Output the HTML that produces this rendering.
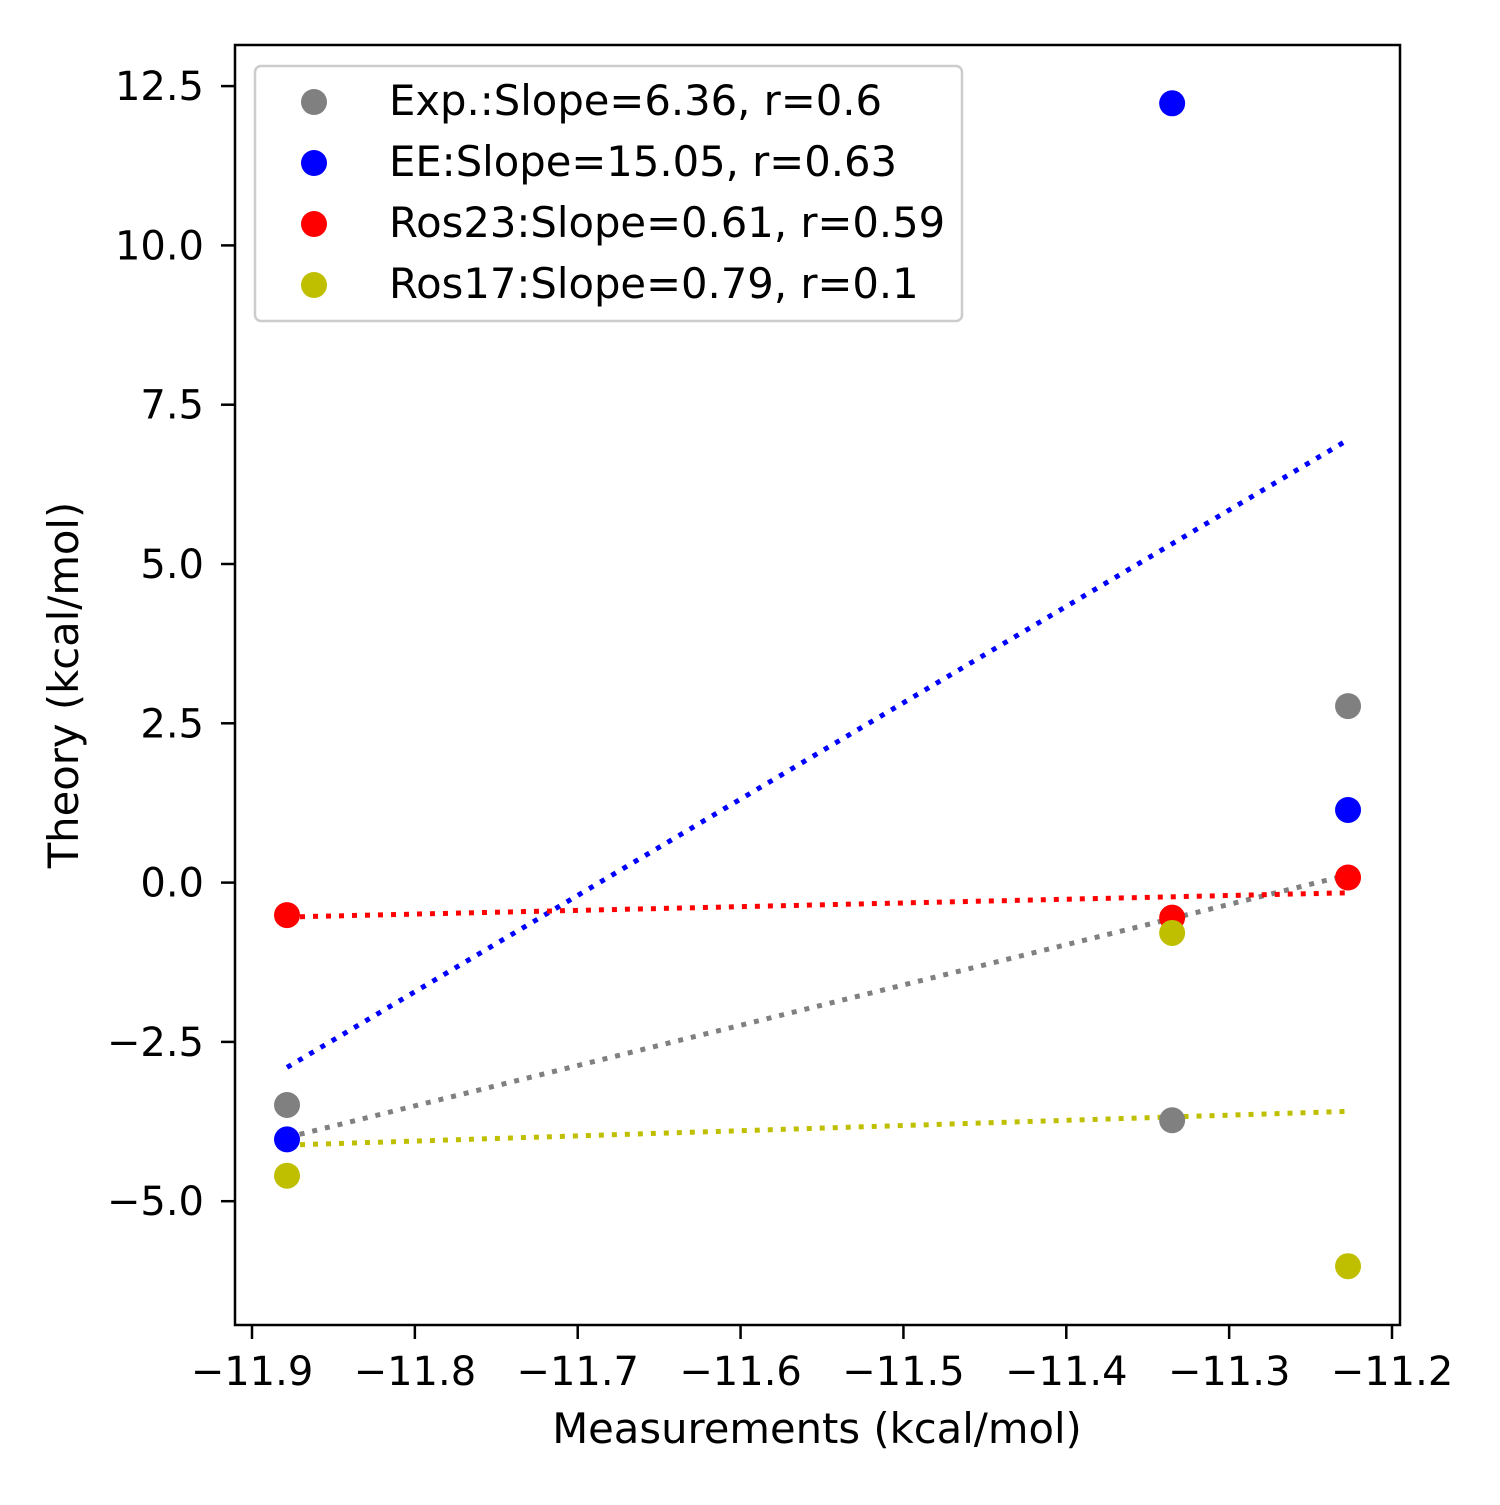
<!DOCTYPE html>
<html><head><meta charset="utf-8"><style>
body{margin:0;background:#fff}
text{font-family:"DejaVu Sans","Liberation Sans",sans-serif;fill:#000}
</style></head><body>
<svg id="chart" width="1500" height="1500" viewBox="0 0 1500 1500" xmlns="http://www.w3.org/2000/svg">
<g id="lines"></g>
<g id="points"></g>
<rect x="235" y="45" width="1165" height="1280" fill="none" stroke="#000" stroke-width="2.5"/>
<g id="xticks"></g>
<g id="yticks"></g>
<text x="817" y="1443" font-size="41.7" text-anchor="middle">Measurements (kcal/mol)</text>
<text transform="translate(78,685) rotate(-90)" font-size="41.7" text-anchor="middle">Theory (kcal/mol)</text>
<g id="legend">
<rect x="255" y="66" width="707" height="255" rx="6" fill="#fff" fill-opacity="0.8" stroke="#ccc" stroke-width="2.5"/>
</g>
</svg>
<script>
const xVals=[-11.8785,-11.335,-11.227];
const expVals=[-3.49,-3.73,2.77];
const eeVals=[-4.03,12.23,1.14];
const ros23Vals=[-0.51,-0.55,0.08];
const ros17Vals=[-4.6,-0.79,-6.02];
const lineX=[-11.8785,-11.227];
const expLine=[-4.0,0.12];
const eeLine=[-2.9,6.95];
const ros23Line=[-0.54,-0.16];
const ros17Line=[-4.12,-3.59];
const xTicks=[-11.9,-11.8,-11.7,-11.6,-11.5,-11.4,-11.3,-11.2];
const yTicks=[-5.0,-2.5,0.0,2.5,5.0,7.5,10.0,12.5];
const legendLabels=["Exp.:Slope=6.36, r=0.6","EE:Slope=15.05, r=0.63","Ros23:Slope=0.61, r=0.59","Ros17:Slope=0.79, r=0.1"];
const colors=["#808080","#0000ff","#ff0000","#bfbf00"];
const series=[expVals,eeVals,ros23Vals,ros17Vals];
const lines=[expLine,eeLine,ros23Line,ros17Line];
const names=["exp","ee","ros23","ros17"];
const NS="http://www.w3.org/2000/svg";
const xs=v=>252+(v+11.9)/0.7*1140;
const ys=v=>882.6-v*63.72;
function mk(tag,attrs,parent){const e=document.createElementNS(NS,tag);for(const k in attrs)e.setAttribute(k,attrs[k]);parent.appendChild(e);return e;}
const gL=document.getElementById('lines'),gP=document.getElementById('points');
lines.forEach((l,i)=>{const e=mk('line',{x1:xs(lineX[0]),y1:ys(l[0]),x2:xs(lineX[1]),y2:ys(l[1]),stroke:colors[i],'stroke-width':5,'stroke-dasharray':'5 8'},gL);

});
series.forEach((s,i)=>s.forEach((v,j)=>{const e=mk('circle',{cx:xs(xVals[j]),cy:ys(v),r:13,fill:colors[i]},gP);

}));
const gx=document.getElementById('xticks'),gy=document.getElementById('yticks');
const fmt=v=>(v<0?'\u2212':'')+Math.abs(v).toFixed(1);
xTicks.forEach(v=>{const x=xs(v);const t=mk('line',{x1:x,y1:1325,x2:x,y2:1339,stroke:'#000','stroke-width':2.5},gx);


const l=mk('text',{x:x,y:1385,'font-size':40,'text-anchor':'middle'},gx);l.textContent=fmt(v);

});
yTicks.forEach(v=>{const y=ys(v);const t=mk('line',{x1:221,y1:y,x2:235,y2:y,stroke:'#000','stroke-width':2.5},gy);


const l=mk('text',{x:204,y:y+14,'font-size':40,'text-anchor':'end'},gy);l.textContent=fmt(v);

});
const gLeg=document.getElementById('legend');
legendLabels.forEach((s,i)=>{const y=102+i*61;
const c=mk('circle',{cx:314,cy:y,r:13,fill:colors[i]},gLeg);


const t=mk('text',{x:389,y:y+13,'font-size':41.7},gLeg);t.textContent=s;

});
</script>
</body></html>
